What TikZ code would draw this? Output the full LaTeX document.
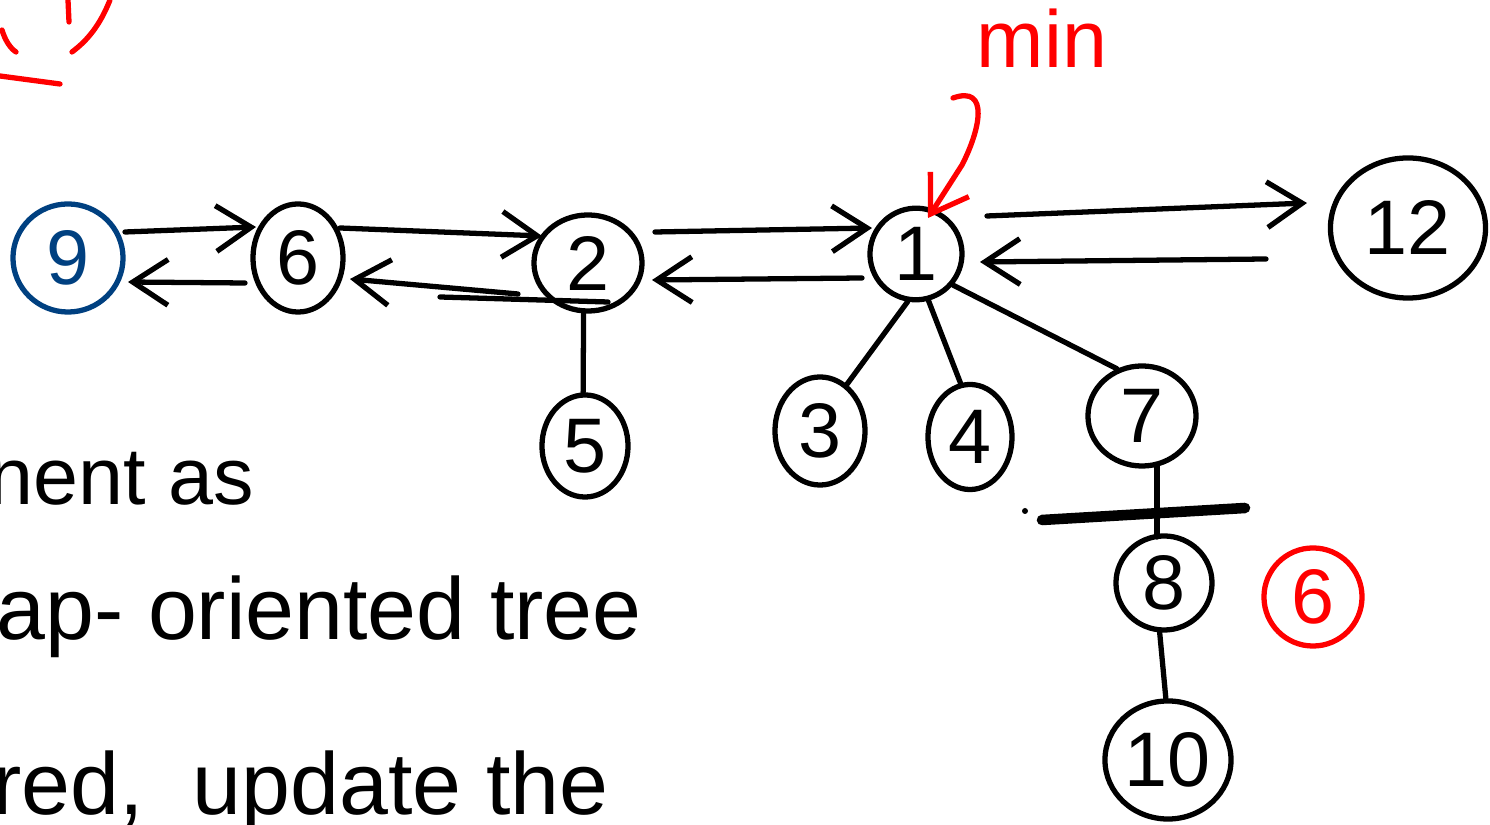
\documentclass[tikz,border=0pt]{standalone}
\usepackage{fontspec}
\setmainfont{Liberation Sans}
\usetikzlibrary{arrows.meta,shapes.geometric}
\definecolor{ink}{RGB}{0,0,0}
\definecolor{redink}{RGB}{255,0,0}
\definecolor{blueink}{RGB}{0,64,128}
\tikzset{
  pen/.style={line width=1.5pt, line cap=round, line join=round, draw=ink},
  keynode/.style={ellipse, pen, inner sep=0pt, font=\fontsize{22}{24}\selectfont},
  hand/.style={font=\fontsize{23}{26}\selectfont, inner sep=0pt},
  barb/.style={-{Straight Barb[length=10pt, width=13pt, line width=1.5pt]}},
  link/.style={pen},
}
\begin{document}
\begin{tikzpicture}[x=0.01cm, y=-0.01cm]
\useasboundingbox (0,0) rectangle (1490,825);
\clip (0,0) rectangle (1490,825);

% root list and children
\node[keynode, draw=blueink, text=blueink, minimum width=1.10cm, minimum height=1.08cm] (n9) at (68,258) {9};
\node[keynode, minimum width=0.90cm, minimum height=1.08cm] (n6) at (298,258) {6};
\node[keynode, minimum width=1.08cm, minimum height=0.96cm] (n2) at (588,263) {2};
\node[keynode, minimum width=0.92cm, minimum height=0.86cm, rotate=20] (n1) at (916,254) {\rotatebox{-20}{1}};
\node[keynode, minimum width=1.55cm, minimum height=1.40cm] (n12) at (1408,228) {12};
\node[keynode, minimum width=0.86cm, minimum height=1.02cm] (n5) at (585,446) {5};
\node[keynode, minimum width=0.90cm, minimum height=1.08cm] (n3) at (820,431) {3};
\node[keynode, minimum width=0.84cm, minimum height=1.05cm] (n4) at (970,437) {4};
\node[keynode, minimum width=1.08cm, minimum height=1.00cm] (n7) at (1142,416) {7};
\node[keynode, minimum width=0.96cm, minimum height=0.94cm] (n8) at (1164,583) {8};
\node[keynode, minimum width=1.26cm, minimum height=1.18cm] (n10) at (1168,760) {10};
\node[keynode, draw=redink, text=redink, minimum width=0.98cm, minimum height=0.98cm] (r6) at (1313,597) {6};

% ends of the sibling pointers, just beside each key
\coordinate (n9r)  at (125,232);  \coordinate (n9l)  at (128,282);
\coordinate (n6in) at (256,227);  \coordinate (n6out) at (245,283);
\coordinate (n6r)  at (340,228);  \coordinate (n6rb) at (350,279);
\coordinate (n2in) at (542,236);  \coordinate (n2out) at (518,294);
\coordinate (n2r)  at (655,232);  \coordinate (n2rb) at (652,280);
\coordinate (n1in) at (872,228);  \coordinate (n1out) at (862,278);
\coordinate (n1r)  at (987,216);  \coordinate (n1rb) at (980,262);
\coordinate (n12in) at (1307,203); \coordinate (n12out) at (1266,259);
\coordinate (n2sl) at (440,297);  \coordinate (n2sr) at (608,302);

% doubly linked root list
\draw[pen, barb] (n9r) -- (n6in);
\draw[pen, barb] (n6out) -- (n9l);
\draw[pen, barb] (n6r) -- (n2in);
\draw[pen, barb] (n2out) -- (n6rb);
\draw[pen] (n2sl) -- (n2sr);
\draw[pen, barb] (n2r) -- (n1in);
\draw[pen, barb] (n1out) -- (n2rb);
\draw[pen, barb] (n1r) -- (n12in);
\draw[pen, barb] (n12out) -- (n1rb);

% child links
\coordinate (n7b) at (1157,466);
\coordinate (n8t) at (1157,537);
\draw[link] (n2.-95) -- (n5.92);
\draw[link] (n1.-120) -- (n3.60);
\draw[link] (n1.-95) -- (n4.100);
\draw[link] (n1.-60) -- (n7.118);
\draw[link] (n7b) -- (n8t);
\draw[link] (n8.-95) -- (n10.92);

% cut mark across the 7--8 link
\coordinate (cutL) at (1042,520);
\coordinate (cutR) at (1245,508);
\draw[line width=3pt, line cap=round, ink] (cutL) -- (cutR);
\fill[ink] (1025,511) circle (0.03cm);

% minimum pointer
\node[hand, text=redink, anchor=base] (minlbl) at (1042,68) {min};
\coordinate (hook) at (953,98);
\coordinate (mintip) at (928,218);
\draw[pen, draw=redink, -{Straight Barb[length=10pt, width=13pt, line width=1.5pt]}]
  (hook) .. controls (990,85) and (980,130) .. (962,165) -- (mintip);

% left margin marks
\draw[pen, draw=redink] (2,30) .. controls (5,40) and (10,48) .. (16,52);
\draw[pen, draw=redink] (68,0) -- (69,22);
\draw[pen, draw=redink] (110,0) .. controls (100,25) and (88,40) .. (72,52);
\draw[pen, draw=redink] (0,76) -- (60,84);

% notes
\node[hand, anchor=base west] (t1) at (-12,505) {nent as};
\node[hand, anchor=base west, font=\fontsize{25}{28}\selectfont] (t2) at (-4,640) {ap- oriented tree};
\node[hand, anchor=base west, font=\fontsize{25}{28}\selectfont] (t3) at (-8,815) {red, \ update the};
\end{tikzpicture}
\end{document}
